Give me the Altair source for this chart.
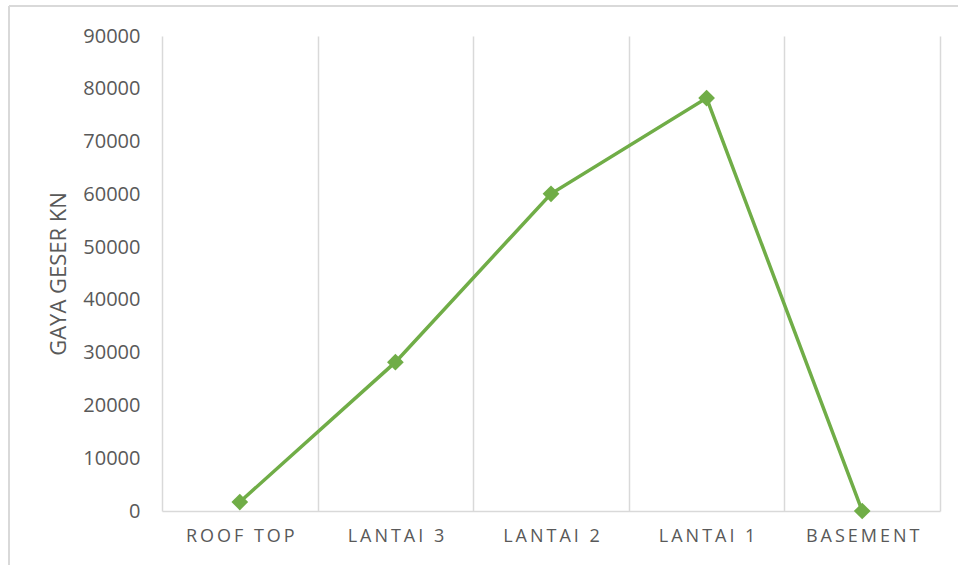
import altair as alt
import pandas as pd

# Storey shear force (kN) per level
floors = ["ROOF TOP", "LANTAI 3", "LANTAI 2", "LANTAI 1", "BASEMENT"]
shear_kn = [1700, 28200, 60100, 78250, 0]
y_ticks = [0, 10000, 20000, 30000, 40000, 50000, 60000, 70000, 80000, 90000]

THIN = "\u2009"


def spaced(label):
    # widen the category labels with thin spaces between letters
    return THIN.join(label)


df = pd.DataFrame({"floor": [spaced(f) for f in floors], "shear": shear_kn})
order = [spaced(f) for f in floors]

W, H = 778, 475
GREEN = "#70ad47"
GRID = "#d9d9d9"
TEXT = "#595959"
FONT = "Open Sans"

x = alt.X(
    "floor:N",
    sort=order,
    scale=alt.Scale(paddingInner=0, paddingOuter=0),
    axis=alt.Axis(
        title=None,
        labelAngle=0,
        grid=True,
        gridColor=GRID,
        gridWidth=1.5,
        tickBand="extent",
        ticks=False,
        domainColor=GRID,
        domainWidth=1.5,
        labelFontSize=18,
        labelColor=TEXT,
        labelFont=FONT,
        labelPadding=16,
    ),
)
y = alt.Y(
    "shear:Q",
    scale=alt.Scale(domain=[0, 90000], nice=False),
    axis=alt.Axis(
        title="GAYA GESER KN",
        values=y_ticks,
        format="d",
        grid=False,
        domain=False,
        ticks=False,
        labelFontSize=20,
        labelColor=TEXT,
        labelFont=FONT,
        labelPadding=22,
        titleFontSize=22,
        titleFontWeight="normal",
        titleColor=TEXT,
        titleFont=FONT,
        titlePadding=12,
    ),
)

base = alt.Chart(df)
line = base.mark_line(color=GREEN, strokeWidth=3.5).encode(x=x, y=y)
pts = base.mark_point(
    shape="diamond", filled=True, size=280, color=GREEN, opacity=1
).encode(x=x, y=y)

# outer chart frame (left and top sides)
frame_top = base.mark_rule(color=GRID, strokeWidth=1.5).encode(
    x=alt.value(-153), x2=alt.value(W + 30), y=alt.value(-30)
)
frame_left = base.mark_rule(color=GRID, strokeWidth=1.5).encode(
    x=alt.value(-153), y=alt.value(-30), y2=alt.value(H + 60)
)

chart = (
    alt.layer(frame_top, frame_left, line, pts)
    .properties(
        width=W,
        height=H,
        autosize=alt.AutoSizeParams(type="none"),
        padding={"left": 162, "top": 36, "right": 18, "bottom": 54},
        background="white",
    )
    .configure_view(stroke=None)
)

chart.save("out.html", embed_options={"renderer": "svg", "actions": False})
